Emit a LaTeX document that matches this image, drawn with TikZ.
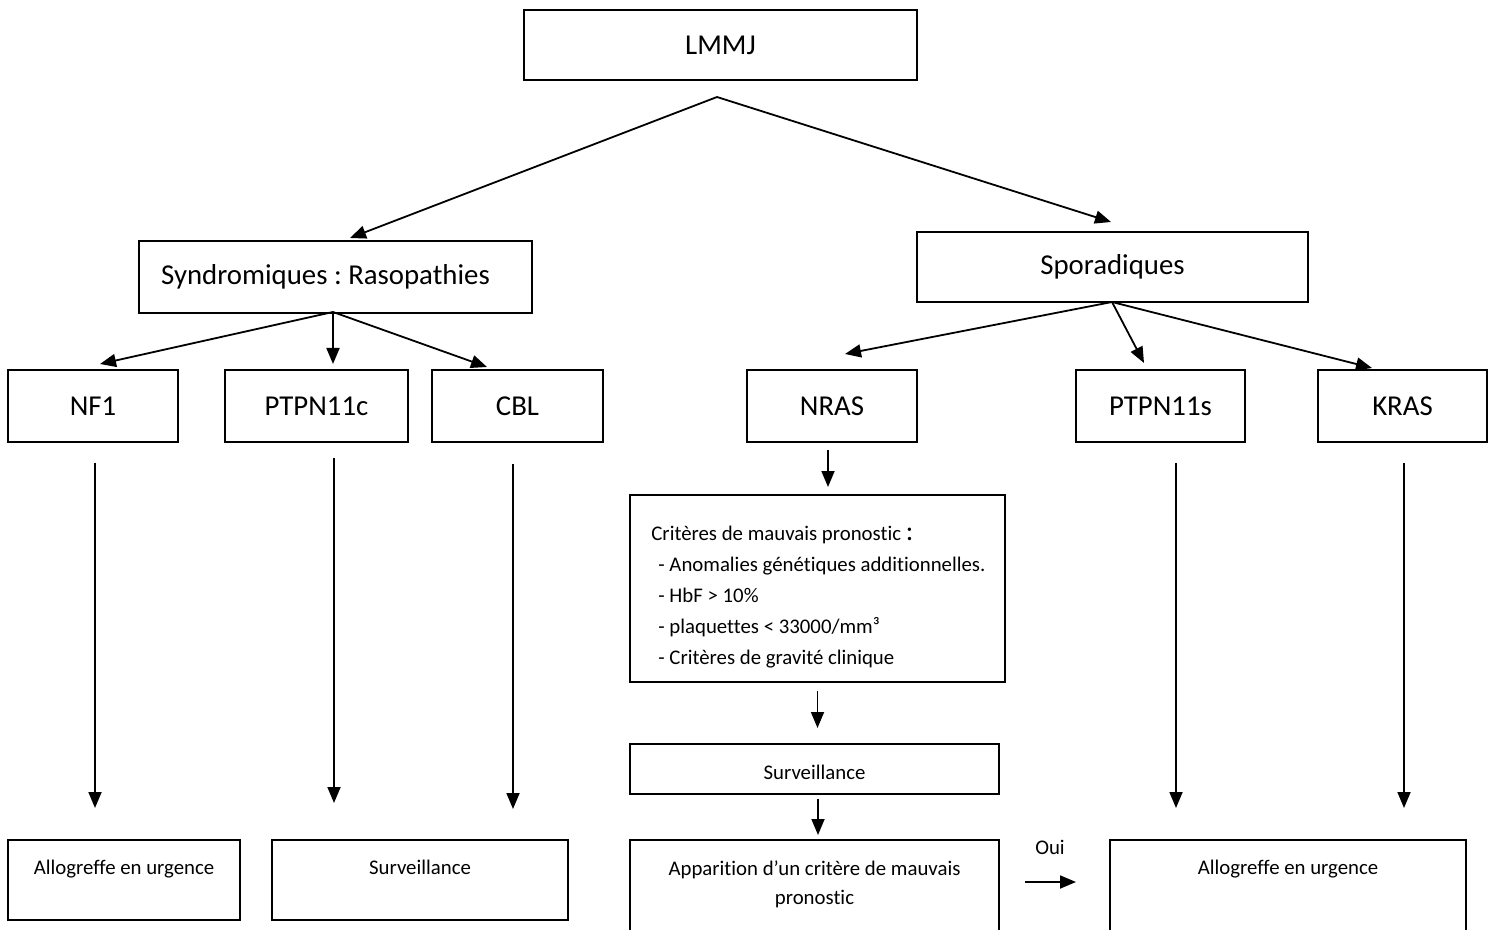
\documentclass[tikz,border=0pt]{standalone}
\usepackage{fontspec}
\setmainfont{Carlito}[Ligatures=NoCommon]
\usetikzlibrary{arrows.meta}
\frenchspacing
\begin{document}
\begin{tikzpicture}[x=0.5pt,y=-0.5pt,
  box/.style={draw, line width=0.75pt, inner sep=0pt, align=center},
  big/.style={font=\fontsize{14.4}{17}\selectfont},
  small/.style={font=\fontsize{10.4}{14.5}\selectfont},
  toplabel/.style={small, inner sep=0pt, anchor=north, yshift=-10.5pt, align=center},
  arr/.style={line width=0.9pt, -{Triangle[length=8pt,width=6.5pt]}}]
\useasboundingbox (0,0) rectangle (1493,930);
\clip (0,0) rectangle (1493,930);
\fill[white] (0,0) rectangle (1493,930);
% top level
\node[box, big, minimum width=196.5pt, minimum height=35pt] (lmmj) at (720.5,45) {LMMJ};
\node[box, big, minimum width=196.5pt, minimum height=36pt] (synd) at (335.5,277) {\hspace*{-10pt}Syndromiques : Rasopathies};
\node[box, big, minimum width=195.5pt, minimum height=35pt] (spor) at (1112.5,267) {Sporadiques};
% genes
\node[box, big, minimum width=85pt, minimum height=36pt] (nf1) at (93,406) {NF1};
\node[box, big, minimum width=91.5pt, minimum height=36pt] (ptc) at (316.5,406) {PTPN11c};
\node[box, big, minimum width=85.5pt, minimum height=36pt] (cbl) at (517.5,406) {CBL};
\node[box, big, minimum width=85pt, minimum height=36pt] (nras) at (832,406) {NRAS};
\node[box, big, minimum width=84.5pt, minimum height=36pt] (pts) at (1160.5,406) {PTPN11s};
\node[box, big, minimum width=84.5pt, minimum height=36pt] (kras) at (1402.5,406) {KRAS};
% NRAS branch
\node[box, minimum width=187.5pt, minimum height=93.5pt, anchor=north] (crit) at (817.5,494) {};
\node[small, anchor=north west, inner sep=0pt, align=left, font=\fontsize{10.4}{15.5}\selectfont] (crittext) at (651,526)
 {Critères de mauvais pronostic {\fontsize{14}{15.5}\selectfont :}\\
  \hspace*{3.5pt}- Anomalies génétiques additionnelles.\\
  \hspace*{3.5pt}- HbF > 10\%\\
  \hspace*{3.5pt}- plaquettes < 33000/mm³\\
  \hspace*{3.5pt}- Critères de gravité clinique};
\node[box, small, minimum width=184.5pt, minimum height=25pt, anchor=north, text height=10.5pt, text depth=0pt] (survm) at (814.5,743) {Surveillance};
\node[box, minimum width=184.5pt, minimum height=65pt, anchor=north,
  label={[toplabel]north:Apparition d’un critère de mauvais\\pronostic}] (app) at (814.5,839) {};
% bottom boxes
\node[box, minimum width=116pt, minimum height=40pt, anchor=north,
  label={[toplabel]north:Allogreffe en urgence}] (allo1) at (124,839) {};
\node[box, minimum width=148pt, minimum height=40pt, anchor=north,
  label={[toplabel]north:Surveillance}] (surv1) at (420,839) {};
\node[box, minimum width=178pt, minimum height=65pt, anchor=north,
  label={[toplabel]north:Allogreffe en urgence}] (allo2) at (1288,839) {};
\node[small] (oui) at (1050,847) {Oui};
% arrow end points
\coordinate (lf) at (717,97);
\coordinate (lfa) at (350,238);
\coordinate (lfb) at (1111,222);
\coordinate (sf) at (333,312);
\coordinate (sfa) at (100,364);
\coordinate (sfb) at (333,364);
\coordinate (sfc) at (487,367);
\coordinate (pf) at (1112,302);
\coordinate (pfa) at (845,354);
\coordinate (pfb) at (1144,363);
\coordinate (pfc) at (1372,368);
\coordinate (ouia) at (1025,882);
\coordinate (ouib) at (1076,882);
% connectors
\draw[arr] (lf) -- (lfa);
\draw[arr] (lf) -- (lfb);
\draw[arr] (sf) -- (sfa);
\draw[arr] (sf) -- (sfb);
\draw[arr] (sf) -- (sfc);
\draw[arr] (pf) -- (pfa);
\draw[arr] (pf) -- (pfb);
\draw[arr] (pf) -- (pfc);
\draw[arr] ([shift={(2,20)}]nf1.south) -- ([shift={(2,-31)}]nf1.south |- allo1.north);
\draw[arr] ([shift={(17.5,15)}]ptc.south) -- ([shift={(17.5,-36)}]ptc.south |- surv1.north);
\draw[arr] ([shift={(-4.5,21)}]cbl.south) -- ([shift={(-4.5,-30)}]cbl.south |- surv1.north);
\draw[arr] ([shift={(15.5,20)}]pts.south) -- ([shift={(15.5,-31)}]pts.south |- allo2.north);
\draw[arr] ([shift={(1.5,20)}]kras.south) -- ([shift={(1.5,-31)}]kras.south |- allo2.north);
\draw[arr] ([shift={(-4,7)}]nras.south) -- ([shift={(-4,-7)}]nras.south |- crit.north);
\draw[arr] ([shift={(0,8)}]crit.south) -- ([shift={(0,-15)}]crit.south |- survm.north);
\draw[arr] ([shift={(3.5,4)}]survm.south) -- ([shift={(3.5,-4)}]survm.south |- app.north);
\draw[arr] (ouia) -- (ouib);
\end{tikzpicture}
\end{document}
